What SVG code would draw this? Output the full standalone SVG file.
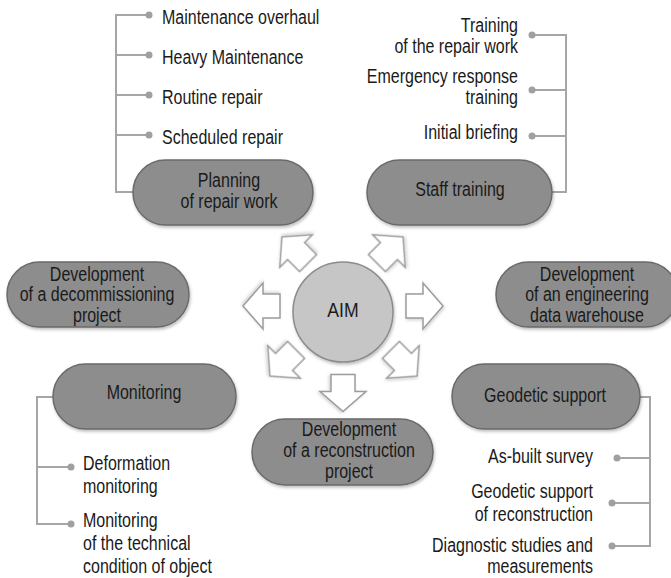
<svg xmlns="http://www.w3.org/2000/svg" xmlns:xlink="http://www.w3.org/1999/xlink" width="671" height="578" viewBox="0 0 671 578">
  <defs>
    <style>
      .pill{fill:#8d8d8d;stroke:#6a6a6a;stroke-width:1.5;filter:url(#sh)}
      .hub{fill:#c6c6c6;stroke:#8c8c8c;stroke-width:1.5;filter:url(#sh)}
      .arrow{fill:#ffffff;stroke:#9c9c9c;stroke-width:1.5;stroke-linejoin:miter;filter:url(#sh2)}
      .ln{fill:none;stroke:#a6a6a6;stroke-width:2}
      .dot{fill:#a0a0a0}
      .t{font-family:"Liberation Sans",Arial,sans-serif;font-size:20px;fill:#1a1a1a}
      .m{text-anchor:middle}
      .e{text-anchor:end}
    </style>
    <filter id="sh" x="-10%" y="-20%" width="125%" height="150%">
      <feDropShadow dx="1" dy="2" stdDeviation="1.8" flood-color="#000" flood-opacity="0.25"/>
    </filter>
    <filter id="sh2" x="-30%" y="-30%" width="160%" height="160%">
      <feDropShadow dx="1" dy="1.5" stdDeviation="1.5" flood-color="#000" flood-opacity="0.18"/>
    </filter>
    <polygon id="arr" points="-18.5,-12 -1.5,-12 -1.5,-23 18.5,0 -1.5,23 -1.5,12 -18.5,12"/>
  </defs>

  <rect width="671" height="578" fill="#ffffff"/>

  <g id="connectors">
    <!-- top-left bracket -->
    <path class="ln" d="M149,15 H116 V192 H134 M116,55 H149 M116,95 H149 M116,135 H149"/>
    <circle class="dot" cx="149" cy="15" r="3.5"/>
    <circle class="dot" cx="149" cy="55" r="3.5"/>
    <circle class="dot" cx="149" cy="95" r="3.5"/>
    <circle class="dot" cx="149" cy="135" r="3.5"/>
    <!-- top-right bracket -->
    <path class="ln" d="M532,35 H566 V192 H551 M532,90 H566 M532,136 H566"/>
    <circle class="dot" cx="532" cy="35" r="3.5"/>
    <circle class="dot" cx="532" cy="90" r="3.5"/>
    <circle class="dot" cx="532" cy="136" r="3.5"/>
    <!-- monitoring bracket -->
    <path class="ln" d="M54,397 H37 V524 H71 M37,467 H71"/>
    <circle class="dot" cx="71" cy="467" r="3.5"/>
    <circle class="dot" cx="71" cy="524" r="3.5"/>
    <!-- geodetic bracket -->
    <path class="ln" d="M639,397 H650 V546 H612 M650,458 H617 M650,503 H612"/>
    <circle class="dot" cx="617" cy="458" r="3.5"/>
    <circle class="dot" cx="612" cy="503" r="3.5"/>
    <circle class="dot" cx="612" cy="546" r="3.5"/>
    <!-- block arrows around the hub -->
    <use xlink:href="#arr" href="#arr" class="arrow" transform="translate(295,250) rotate(-135)"/>
    <use xlink:href="#arr" href="#arr" class="arrow" transform="translate(390,250) rotate(-45)"/>
    <use xlink:href="#arr" href="#arr" class="arrow" transform="translate(261.5,306) rotate(180)"/>
    <use xlink:href="#arr" href="#arr" class="arrow" transform="translate(424.5,306)"/>
    <use xlink:href="#arr" href="#arr" class="arrow" transform="translate(283,363) rotate(135)"/>
    <use xlink:href="#arr" href="#arr" class="arrow" transform="translate(404,363) rotate(45)"/>
    <use xlink:href="#arr" href="#arr" class="arrow" transform="translate(343,393) rotate(90)"/>
  </g>

  <g id="hub-aim">
    <circle class="hub" cx="343" cy="312" r="50"/>
    <text class="t m" transform="translate(343,317) scale(0.86,1)" style="font-size:20.5px">AIM</text>
  </g>

  <g id="node-planning">
    <rect class="pill" x="133" y="160" width="180" height="65" rx="32.5"/>
    <text class="t m" transform="translate(229,187) scale(0.8,1)"><tspan x="0" y="0">Planning</tspan><tspan x="0" y="21">of repair work</tspan></text>
  </g>

  <g id="node-staff">
    <rect class="pill" x="367" y="160" width="185" height="65" rx="32.5"/>
    <text class="t m" transform="translate(460,196) scale(0.8,1)">Staff training</text>
  </g>

  <g id="node-decommissioning">
    <rect class="pill" x="7" y="262" width="182" height="65" rx="32.5"/>
    <text class="t m" transform="translate(97,281) scale(0.8,1)"><tspan x="0" y="0">Development</tspan><tspan x="0" y="20">of a decommissioning</tspan><tspan x="0" y="41">project</tspan></text>
  </g>

  <g id="node-warehouse">
    <rect class="pill" x="496" y="262" width="182" height="65" rx="32.5"/>
    <text class="t m" transform="translate(587,281) scale(0.8,1)"><tspan x="0" y="0">Development</tspan><tspan x="0" y="20">of an engineering</tspan><tspan x="0" y="41">data warehouse</tspan></text>
  </g>

  <g id="node-monitoring">
    <rect class="pill" x="53" y="364" width="183" height="65" rx="32.5"/>
    <text class="t m" transform="translate(144,399) scale(0.8,1)">Monitoring</text>
  </g>

  <g id="node-reconstruction">
    <rect class="pill" x="252" y="419" width="181" height="66" rx="33"/>
    <text class="t m" transform="translate(349,436) scale(0.8,1)"><tspan x="0" y="0">Development</tspan><tspan x="0" y="21">of a reconstruction</tspan><tspan x="0" y="42">project</tspan></text>
  </g>

  <g id="node-geodetic">
    <rect class="pill" x="452" y="364" width="188" height="65" rx="32.5"/>
    <text class="t m" transform="translate(545,402) scale(0.8,1)">Geodetic support</text>
  </g>

  <g id="list-repair">
    <text class="t" transform="translate(162,24) scale(0.8,1)">Maintenance overhaul</text>
    <text class="t" transform="translate(162,64) scale(0.8,1)">Heavy Maintenance</text>
    <text class="t" transform="translate(162,104) scale(0.8,1)">Routine repair</text>
    <text class="t" transform="translate(162,144) scale(0.8,1)">Scheduled repair</text>
  </g>

  <g id="list-training">
    <text class="t e" transform="translate(518,32) scale(0.8,1)"><tspan x="0" y="0">Training</tspan><tspan x="0" y="21">of the repair work</tspan></text>
    <text class="t e" transform="translate(518,83) scale(0.8,1)"><tspan x="0" y="0">Emergency response</tspan><tspan x="0" y="21">training</tspan></text>
    <text class="t e" transform="translate(518,139) scale(0.8,1)">Initial briefing</text>
  </g>

  <g id="list-monitoring">
    <text class="t" transform="translate(83,470) scale(0.8,1)"><tspan x="0" y="0">Deformation</tspan><tspan x="0" y="23">monitoring</tspan></text>
    <text class="t" transform="translate(83,527) scale(0.8,1)"><tspan x="0" y="0">Monitoring</tspan><tspan x="0" y="23">of the technical</tspan><tspan x="0" y="46">condition of object</tspan></text>
  </g>

  <g id="list-geodetic">
    <text class="t e" transform="translate(593,463) scale(0.8,1)">As-built survey</text>
    <text class="t e" transform="translate(593,498) scale(0.8,1)"><tspan x="0" y="0">Geodetic support</tspan><tspan x="0" y="23">of reconstruction</tspan></text>
    <text class="t e" transform="translate(593,552) scale(0.8,1)"><tspan x="0" y="0">Diagnostic studies and</tspan><tspan x="0" y="21">measurements</tspan></text>
  </g>
</svg>
